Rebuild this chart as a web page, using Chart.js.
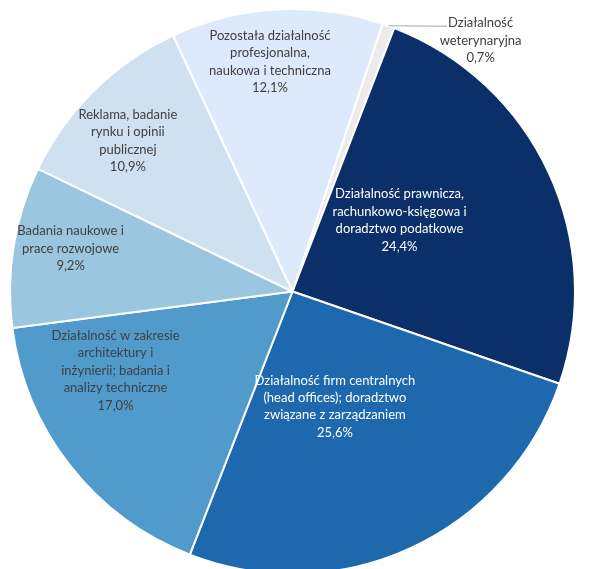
<!DOCTYPE html>
<html>
<head>
<meta charset="utf-8">
<script src="https://cdn.jsdelivr.net/npm/chart.js"></script>
<style>
  body { margin: 0; overflow: hidden; background: #fff; }
</style>
</head>
<body>
<canvas id="pie" width="589" height="580"></canvas>
<script>
// categories (split into lines like the original labels)
const categories = [
  ["Działalność", "weterynaryjna"],
  ["Działalność prawnicza,", "rachunkowo-księgowa i", "doradztwo podatkowe"],
  ["Działalność firm centralnych", "(head offices); doradztwo", "związane z zarządzaniem"],
  ["Działalność w zakresie", "architektury i", "inżynierii; badania i", "analizy techniczne"],
  ["Badania naukowe i", "prace rozwojowe"],
  ["Reklama, badanie", "rynku i opinii", "publicznej"],
  ["Pozostała działalność", "profesjonalna,", "naukowa i techniczna"]
];
// share in %
const shares = [0.7, 24.4, 25.6, 17.0, 9.2, 10.9, 12.1];

const colors = ["#ebebeb", "#0b2f69", "#1e69ae", "#519acc", "#9ac6df", "#cfe0f1", "#ddeafb"];
const textColors = ["#404040", "#ffffff", "#ffffff", "#404040", "#404040", "#404040", "#404040"];
// label placement: fraction of radius and angle tweak (deg)
const place = [
  { frac: 1.11, turn: 17, outside: true },
  { frac: 0.455, turn: -8.7 },
  { frac: 0.434, turn: 4.6 },
  { frac: 0.686, turn: 14 },
  { frac: 0.80, turn: 1.8 },
  { frac: 0.79, turn: -2.9 },
  { frac: 0.817, turn: -2.4 }
];

const fmtPct = (v) => v.toFixed(1).replace(".", ",") + "%";

const sliceLabels = {
  id: "sliceLabels",
  afterDatasetsDraw(chart) {
    const ctx = chart.ctx;
    const arcs = chart.getDatasetMeta(0).data;
    ctx.save();
    ctx.font = "13px Lato";
    ctx.textAlign = "center";
    ctx.textBaseline = "middle";
    const lh = 17.4;
    arcs.forEach((arc, i) => {
      const p = arc.getProps(["x", "y", "startAngle", "endAngle", "outerRadius"], true);
      const mid = (p.startAngle + p.endAngle) / 2;
      const a = mid + place[i].turn * Math.PI / 180;
      const r = p.outerRadius * place[i].frac;
      const tx = p.x + Math.cos(a) * r;
      const ty = p.y + Math.sin(a) * r;
      const lines = categories[i].concat([fmtPct(shares[i])]);
      const y0 = ty - (lines.length - 1) * lh / 2;
      if (place[i].outside) {
        const ex = p.x + Math.cos(mid) * p.outerRadius;
        const ey = p.y + Math.sin(mid) * p.outerRadius;
        const w0 = ctx.measureText(lines[0]).width;
        ctx.strokeStyle = "#a6a6a6";
        ctx.lineWidth = 1;
        ctx.beginPath();
        ctx.moveTo(ex, ey);
        ctx.lineTo(tx - w0 / 2 - 1, y0 + 3);
        ctx.stroke();
      }
      ctx.fillStyle = textColors[i];
      lines.forEach((ln, k) => {
        ctx.fillText(ln, tx, y0 + k * lh);
      });
    });
    ctx.restore();
  }
};

new Chart(document.getElementById("pie"), {
  type: "pie",
  data: {
    labels: categories,
    datasets: [{
      data: shares,
      backgroundColor: colors,
      borderColor: "#ffffff",
      borderWidth: 2
    }]
  },
  options: {
    responsive: false,
    animation: false,
    rotation: 18.6,
    layout: { padding: { left: 9, right: 13, top: 8, bottom: 5 } },
    plugins: {
      legend: { display: false },
      tooltip: { enabled: false }
    }
  },
  plugins: [sliceLabels]
});
</script>
</body>
</html>
